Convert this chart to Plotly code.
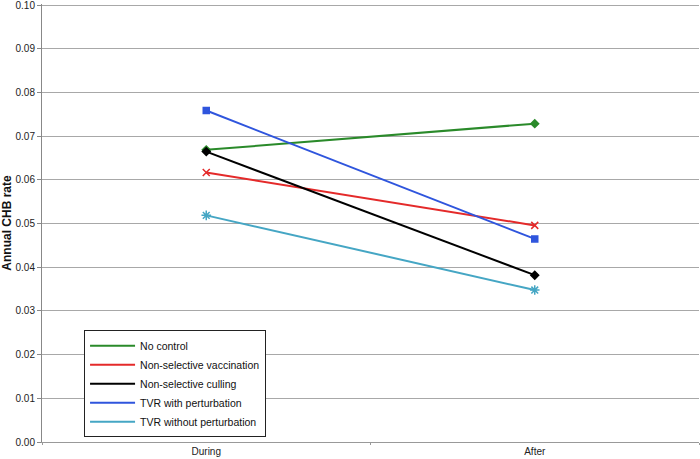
import plotly.graph_objects as go

categories = ["During", "After"]
series_names = ["No control", "Non-selective vaccination", "Non-selective culling",
                "TVR with perturbation", "TVR without perturbation"]
no_control = [0.0669, 0.0729]
nonsel_vacc = [0.0617, 0.0496]
nonsel_cull = [0.0665, 0.0382]
tvr_with = [0.0759, 0.0465]
tvr_without = [0.0519, 0.0348]
y_ticks = [0.00, 0.01, 0.02, 0.03, 0.04, 0.05, 0.06, 0.07, 0.08, 0.09, 0.10]

values = [no_control, nonsel_vacc, nonsel_cull, tvr_with, tvr_without]
colors = ["#2a8a2a", "#e42a2a", "#000000", "#2f55dd", "#45a6c4"]
symbols = ["diamond", "x-thin-open", "diamond", "square", "asterisk-open"]
sizes = [6, 7, 6, 6, 8]

fig = go.Figure()
for i, (name, vals, c) in enumerate(zip(series_names, values, colors)):
    fig.add_trace(go.Scatter(
        x=categories, y=vals, name=name, mode="lines", legendgroup=f"g{i}",
        line=dict(color=c, width=2),
    ))
for i, (name, vals, c, s, sz) in enumerate(zip(series_names, values, colors, symbols, sizes)):
    fig.add_trace(go.Scatter(
        x=categories, y=vals, name=name, mode="markers", legendgroup=f"g{i}",
        showlegend=False,
        marker=dict(color=c, symbol=s, size=sz, line=dict(color=c, width=1.5)),
    ))

fig.update_layout(
    width=700, height=459,
    margin=dict(l=42, r=1, t=4, b=17),
    paper_bgcolor="white", plot_bgcolor="white",
    font=dict(family="Liberation Sans, Arial, sans-serif", size=10, color="#222"),
    showlegend=True,
    legend=dict(
        x=0.064, y=0.255, xanchor="left", yanchor="top",
        bgcolor="white", bordercolor="#222", borderwidth=1,
        font=dict(size=10.5, color="#111"),
        tracegroupgap=0, itemwidth=45,
    ),
    xaxis=dict(
        type="category", range=[-0.5, 1.5], automargin=False,
        showline=True, linecolor="#999", linewidth=1,
        ticks="outside", tickson="boundaries", ticklen=2, tickcolor="#999",
        showgrid=False, tickfont=dict(size=10, color="#222"),
        zeroline=False,
    ),
    yaxis=dict(
        range=[0, 0.1003], tickvals=y_ticks, tickformat=".2f", automargin=False,
        ticklabeloverflow="allow",
        showline=True, linecolor="#888", linewidth=1,
        ticks="outside", ticklen=4, tickcolor="#888",
        showgrid=True, gridcolor="#a8a8a8", gridwidth=1,
        zeroline=False, tickfont=dict(size=10, color="#222"),
        title=dict(text="<b>Annual CHB rate</b>", font=dict(size=12, color="#111"), standoff=4),
    ),
)

fig.write_html("out.html", config={"displayModeBar": False},
               post_script="document.body.style.margin='0';")
